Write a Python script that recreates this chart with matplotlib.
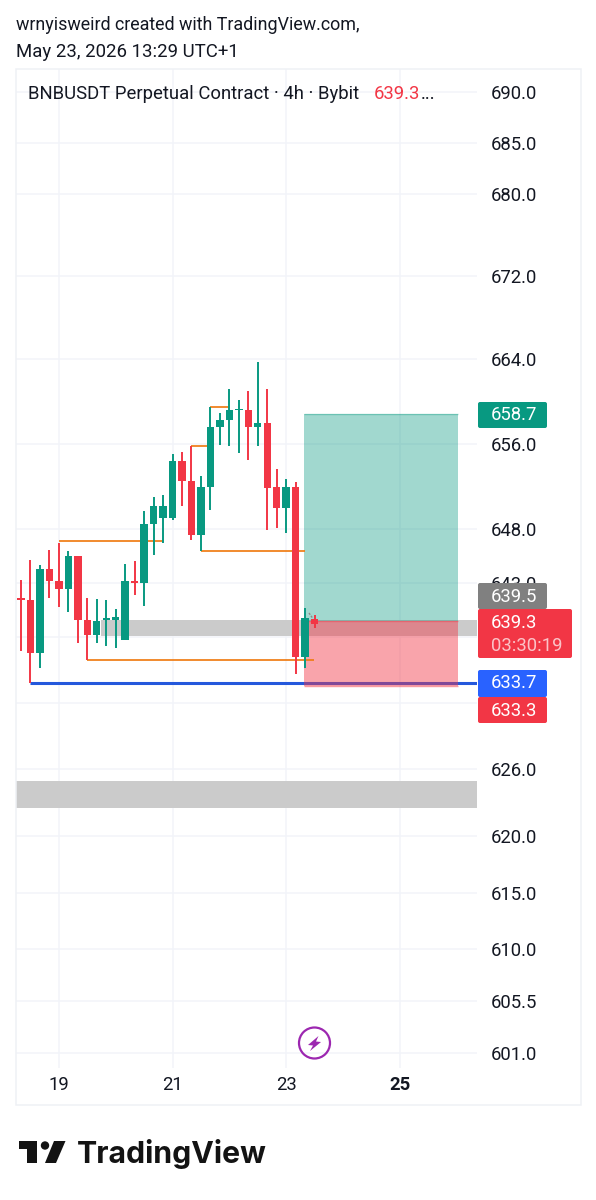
import matplotlib
matplotlib.use("Agg")
import matplotlib.pyplot as plt
from matplotlib.patches import FancyBboxPatch, Polygon, Circle, Rectangle
from matplotlib.ticker import NullLocator, FixedLocator, FixedFormatter
import numpy as np

plt.rcParams['font.family'] = ['Roboto', 'DejaVu Sans']

# ---- data ----
opens  = [641.60,641.37,636.56,644.26,643.15,642.41,645.50,639.53,638.15,639.60,639.53,637.78,643.15,642.94,648.45,648.98,648.98,654.35,652.51,647.42,651.90,657.60,658.20,659.20,659.18,657.60,657.93,651.87,649.94,651.87,636.16,639.68]
closes = [641.45,636.56,644.26,643.15,642.41,645.50,639.53,638.15,639.50,639.75,639.83,643.15,642.94,648.45,650.16,650.16,654.35,652.51,647.42,651.94,657.60,658.22,659.18,659.30,657.60,657.93,651.80,649.94,651.87,636.16,639.71,639.22]
highs  = [643.28,645.07,644.61,646.06,646.68,645.90,645.50,641.64,641.52,641.37,640.56,644.70,645.00,649.66,651.00,651.16,654.98,655.17,655.74,652.91,659.45,658.88,661.13,660.09,660.98,663.74,661.13,653.63,652.70,652.37,640.72,640.05]
lows   = [636.77,633.76,635.19,641.62,640.75,640.29,637.44,635.92,637.48,637.20,636.99,637.94,641.83,640.82,645.60,646.68,648.86,650.10,646.93,645.93,649.79,655.86,655.80,655.08,654.42,655.80,647.86,648.07,647.58,634.64,635.13,638.86]

price_ticks = [690.0,685.0,680.0,672.0,664.0,656.0,648.0,643.0,638.0,632.0,626.0,620.0,615.0,610.0,605.5,601.0]
hidden_ticks = [638.0,632.0]
day_ticks = [4,16,28,40]
day_labels = ['19','21','23','25']

# (start candle, end candle, price)
orange_levels = [(4,15,646.9),(7,30.95,635.92),(18,19.65,655.74),(20,22,659.45),(19,30,645.93)]
blue_level = (1,48.2,633.8)
gray_zones = [(8.4,48.2,638.1,639.53),(-0.6,48.2,622.55,624.95)]
pos_x = (29.9,46.15)
pos_entry, pos_target, pos_stop = 639.5,658.8,633.55

RED='#F23645'; GREEN='#089981'; BLUE='#2962FF'; ORANGE='#EF7C14'; GRID='#F2F4F9'; INK='#131722'

W,H=596,1200
fig=plt.figure(figsize=(W/100,H/100),dpi=100,facecolor='white')
def rect(l,t,r,b): return [l/W,1-b/H,(r-l)/W,(b-t)/H]

ax=fig.add_axes(rect(16,69,477,1068))
ax.set_yscale('log')
ax.set_ylim(599.6+0.08,692.29)
ax.set_xlim(-0.53,48.15)
for s in ax.spines.values(): s.set_visible(False)
ax.yaxis.set_minor_locator(NullLocator())
ax.xaxis.set_minor_locator(NullLocator())
ax.yaxis.set_major_locator(FixedLocator(price_ticks))
ax.yaxis.set_major_formatter(FixedFormatter(['' if p in hidden_ticks else f'{p:.1f}' for p in price_ticks]))
ax.yaxis.tick_right()
ax.tick_params(axis='y',length=0,pad=10,labelsize=13.3,labelcolor=INK)
ax.set_xticks(day_ticks,day_labels)
ax.tick_params(axis='x',length=0,pad=6,labelsize=13.3,labelcolor=INK)
ax.get_xticklabels()[3].set_fontweight('bold')
ax.grid(True,color=GRID,lw=1.1)
ax.set_axisbelow(True)

for x0,x1,p0,p1 in gray_zones:
    ax.fill_between([x0,x1],p0,p1,color='#CBCBCB',lw=0,zorder=1)
ax.hlines(blue_level[2],blue_level[0],blue_level[1],color='#2458DC',lw=2.2,zorder=2)
ax.fill_between(pos_x,pos_entry,pos_target,color=GREEN,alpha=0.38,lw=0,zorder=3)
ax.fill_between(pos_x,pos_stop,pos_entry,color=RED,alpha=0.45,lw=0,zorder=3)
ax.hlines(pos_target,*pos_x,color=GREEN,alpha=.35,lw=1,zorder=3)
ax.hlines(pos_entry,*pos_x,color=RED,alpha=.4,lw=1,zorder=3)
ax.hlines(pos_stop,*pos_x,color=RED,alpha=.5,lw=1,zorder=3)
for a,b,p in orange_levels:
    ax.hlines(p,a,b,color=ORANGE,lw=1.25,zorder=4)

idx=np.arange(len(opens))
cols=[RED if c<o else GREEN for o,c in zip(opens,closes)]
ax.vlines(idx,lows,highs,colors=cols,lw=1.4,zorder=5)
ax.bar(idx,np.abs(np.array(closes)-np.array(opens)),bottom=np.minimum(opens,closes),width=0.78,color=cols,lw=0,zorder=6)

# overlay in pixel coordinates for chart furniture
ov=fig.add_axes([0,0,1,1],facecolor='none',zorder=10)
ov.set_xlim(0,W); ov.set_ylim(H,0); ov.axis('off')
ov.add_patch(Rectangle((16,69),564.5,1036,fill=False,ec='#EFF1F5',lw=1.1))
ov.plot([309,312.5],[613,618],color='#8a8a8a',lw=1,ls=(0,(1.5,1)))

ov.text(16,25.5,'wrnyisweird created with TradingView.com,',fontsize=12.9,color=INK,va='center')
ov.text(16,52,'May 23, 2026 13:29 UTC+1',fontsize=13.45,color=INK,va='center')
ov.text(28,94,'BNBUSDT Perpetual Contract · 4h · Bybit',fontsize=13.35,color=INK,va='center')
ov.text(374,94,'639.3',fontsize=13.35,color=RED,va='center')
ov.text(421,94,'...',fontsize=13.35,color=INK,va='center')

def badge(l,t,r,b,c):
    ov.add_patch(FancyBboxPatch((l+2,t+2),r-l-4,b-t-4,boxstyle='round,pad=2,rounding_size=2',fc=c,ec='none'))
def btxt(y,s,c='white',a=1):
    ov.text(491,y,s,fontsize=13.3,color=c,alpha=a,va='center')
badge(478,402,547,428,GREEN); btxt(415.5,'658.7')
badge(478,583,547,609,'#808080'); btxt(596.5,'639.5')
badge(478,609,572,658,RED); btxt(623,'639.3'); btxt(646,'03:30:19',a=.7)
badge(478,670,547,697,BLUE); btxt(683.5,'633.7')
badge(478,697,547,723,RED); btxt(710.5,'633.3')

# purple bolt icon
ov.add_patch(Circle((314.5,1043),15.5,fill=False,ec='#9C27B0',lw=1.6))
ov.add_patch(Polygon([(318.5,1036),(308,1045),(313,1045.5),(310,1051),(321,1042),(316,1041.5)],fc='#9C27B0',ec='none'))

# TradingView logo
ov.add_patch(Polygon([(19,1141),(36.5,1141),(36.5,1163),(27,1163),(27,1149),(19,1149)],fc='#131313',ec='none'))
ov.add_patch(Circle((45,1145.5),4.2,fc='#131313',ec='none'))
ov.add_patch(Polygon([(54,1141),(65.5,1141),(56,1163),(45,1163)],fc='#131313',ec='none'))
ov.text(77,1163,'TradingView',fontsize=21.8,fontweight='bold',family=['Inter','DejaVu Sans'],color='#131313',va='baseline')

fig.savefig('out.png',dpi=100)
